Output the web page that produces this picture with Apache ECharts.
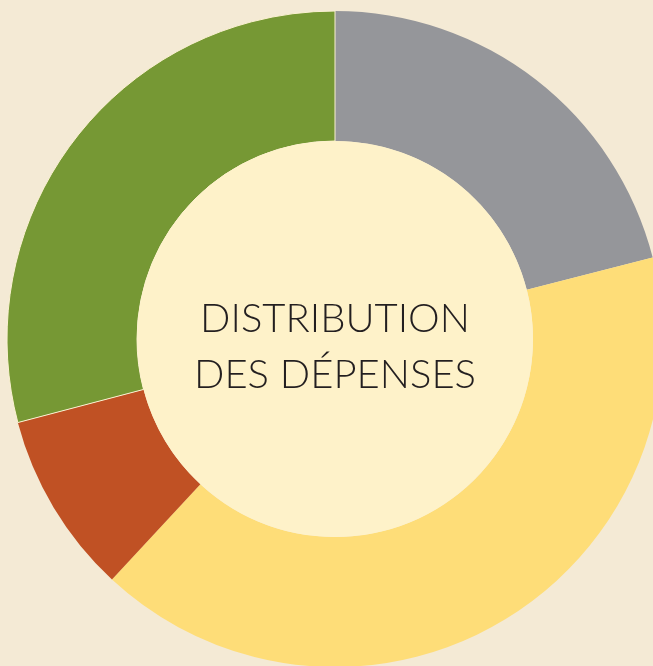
<!DOCTYPE html>
<html>
<head>
<meta charset="utf-8">
<script src="https://cdn.jsdelivr.net/npm/echarts@6/dist/echarts.min.js"></script>
<style>
  html, body { margin: 0; padding: 0; background: #f4ead5; }
  #chart { width: 653px; height: 666px; }
</style>
</head>
<body>
<div id="chart"></div>
<script>
// parts of the ring, clockwise from 12 o'clock
const names = ['Gris', 'Jaune', 'Rouge', 'Vert'];
const values = [21.0, 40.9, 9.0, 29.1];
const colors = ['#95969a', '#fedd78', '#c05124', '#769834'];
const centerText = 'DISTRIBUTION\nDES DÉPENSES';

const chart = echarts.init(document.getElementById('chart'));

const data = names.map((n, i) => {
  const item = { name: n, value: values[i], itemStyle: { color: colors[i] } };
  if (n === 'Vert') {
    item.itemStyle.borderColor = '#fbf1d2';
    item.itemStyle.borderWidth = 1;
  }
  return item;
});

chart.setOption({
  backgroundColor: '#f4ead5',
  animation: false,
  series: [
    {
      type: 'pie',
      center: [335, 339],
      radius: [198, 328],
      startAngle: 90,
      clockwise: true,
      silent: true,
      label: { show: false },
      labelLine: { show: false },
      data: data
    },
    {
      type: 'pie',
      center: [335, 339],
      radius: [0, 198],
      silent: true,
      label: { show: false },
      labelLine: { show: false },
      data: [{ value: 1, itemStyle: { color: '#fef2c9' } }]
    }
  ],
  graphic: [{
    type: 'text',
    z: 100,
    x: 335,
    y: 347,
    style: {
      text: centerText,
      textAlign: 'center',
      textVerticalAlign: 'middle',
      font: '300 40px Lato, "Open Sans", sans-serif',
      lineHeight: 56,
      fill: '#231f20'
    }
  }]
});
</script>
</body>
</html>
